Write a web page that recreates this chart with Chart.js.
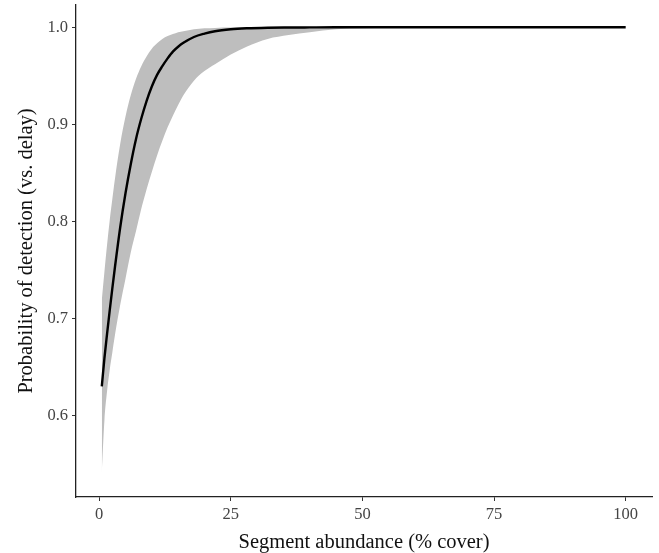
<!DOCTYPE html>
<html>
<head>
<meta charset="utf-8">
<script src="https://cdn.jsdelivr.net/npm/chart.js@4"></script>
<style>
  html, body { margin: 0; padding: 0; background: #fff; }
  #wrap { width: 659px; height: 553px; }
</style>
</head>
<body>
<div id="wrap"><canvas id="chart" width="659" height="553"></canvas></div>
<script>
// values
const cover = [0.5, 1, 1.5, 2, 2.5, 3, 4, 5, 6, 7, 8, 9, 10, 11, 12, 13, 14, 15, 16, 18, 20, 22, 25, 28, 32, 36, 40, 45, 50, 60, 70, 80, 90, 100];
const fitted = [0.630, 0.659, 0.684, 0.708, 0.731, 0.753, 0.794, 0.829, 0.859, 0.885, 0.906, 0.924, 0.939, 0.951, 0.960, 0.968, 0.975, 0.980, 0.984, 0.990, 0.9935, 0.996, 0.998, 0.999, 0.9996, 0.9998, 0.9999, 1.0, 1.0, 1.0, 1.0, 1.0, 1.0, 1.0];
const upperCI = [0.719, 0.748, 0.776, 0.801, 0.823, 0.844, 0.880, 0.908, 0.930, 0.947, 0.960, 0.970, 0.978, 0.9835, 0.988, 0.991, 0.993, 0.995, 0.996, 0.998, 0.999, 0.9994, 0.9997, 0.9999, 1.0, 1.0, 1.0, 1.0, 1.0, 1.0, 1.0, 1.0, 1.0, 1.0];
const lowerCI = [0.540, 0.595, 0.625, 0.647, 0.665, 0.683, 0.714, 0.741, 0.768, 0.790, 0.813, 0.833, 0.851, 0.868, 0.883, 0.897, 0.909, 0.920, 0.930, 0.945, 0.955, 0.962, 0.972, 0.980, 0.988, 0.992, 0.995, 0.998, 0.999, 0.9997, 1.0, 1.0, 1.0, 1.0];
const xTicks = [0, 25, 50, 75, 100];
const yTicks = [0.6, 0.7, 0.8, 0.9, 1.0];

const pts = ys => cover.map((x, i) => ({ x, y: ys[i] }));
const serif = '"Liberation Serif", "DejaVu Serif", serif';

new Chart(document.getElementById('chart'), {
  type: 'line',
  data: {
    datasets: [
      {
        label: 'fit',
        data: pts(fitted),
        borderColor: '#000',
        borderWidth: 2.4,
        pointRadius: 0,
        cubicInterpolationMode: 'monotone',
        fill: false,
        order: 0,
      },
      {
        label: 'upper',
        data: pts(upperCI),
        borderWidth: 0,
        borderColor: 'rgba(0,0,0,0)',
        backgroundColor: '#bebebe',
        pointRadius: 0,
        cubicInterpolationMode: 'monotone',
        fill: { target: 2 },
        order: 1,
      },
      {
        label: 'lower',
        data: pts(lowerCI),
        borderWidth: 0,
        borderColor: 'rgba(0,0,0,0)',
        pointRadius: 0,
        cubicInterpolationMode: 'monotone',
        fill: false,
        order: 2,
      },
    ]
  },
  options: {
    responsive: false,
    animation: false,
    layout: { padding: { left: 16, right: 7, top: 5, bottom: 0 } },
    plugins: { legend: { display: false }, tooltip: { enabled: false } },
    scales: {
      x: {
        type: 'linear',
        min: -4.4,
        max: 105,
        afterBuildTicks: s => { s.ticks = xTicks.map(v => ({ value: v })); },
        afterFit: s => { s.height = 56; s.paddingLeft = 0; s.paddingRight = 0; },
        grid: { display: true, drawOnChartArea: false, drawTicks: true, tickLength: 4, color: '#333' },
        border: { display: true, color: '#222', width: 1.3 },
        ticks: { color: '#444', font: { family: serif, size: 16.5 }, padding: 4, maxRotation: 0 },
        title: { display: true, text: 'Segment abundance (% cover)', color: '#111', font: { family: serif, size: 20.5, lineHeight: 1.0 }, padding: { top: 0, bottom: 0 } },
      },
      y: {
        type: 'linear',
        min: 0.516,
        max: 1.023,
        afterBuildTicks: s => { s.ticks = yTicks.map(v => ({ value: v })); },
        afterFit: s => { s.width = 60; s.paddingTop = 0; s.paddingBottom = 0; },
        grid: { display: true, drawOnChartArea: false, drawTicks: true, tickLength: 4, color: '#333' },
        border: { display: true, color: '#222', width: 1.3 },
        ticks: { color: '#444', font: { family: serif, size: 16.5 }, padding: 4, callback: v => v.toFixed(1) },
        title: { display: true, text: 'Probability of detection (vs. delay)', color: '#111', font: { family: serif, size: 20.5, lineHeight: 1.0 }, padding: { top: 0, bottom: 0 } },
      }
    }
  }
});
</script>
</body>
</html>
